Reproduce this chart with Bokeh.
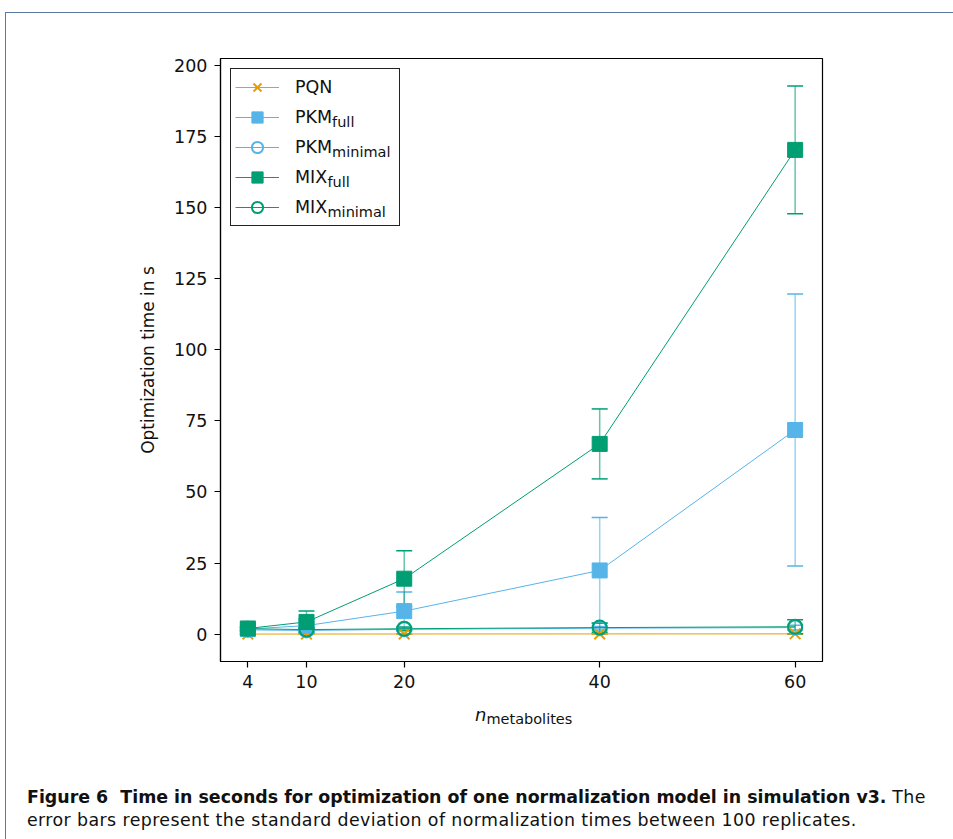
import numpy as np
from bokeh.plotting import figure
from bokeh.models import (ColumnDataSource, Range1d, FixedTicker, Whisker, TeeHead,
                          Legend, LegendItem, Div)
from bokeh.layouts import column
from bokeh.embed import file_html
from bokeh.resources import INLINE
from bokeh.core.properties import value

# ---------------- data ----------------
n_metabolites = [4, 10, 20, 40, 60]
y_ticks = [0, 25, 50, 75, 100, 125, 150, 175, 200]

pqn_mean = [0.03, 0.04, 0.06, 0.08, 0.10]
pqn_sd = [0.01, 0.01, 0.02, 0.02, 0.03]

pkm_full_mean = [1.8, 3.0, 8.1, 22.4, 71.8]
pkm_full_sd = [0.6, 2.4, 6.7, 18.6, 47.8]

pkm_min_mean = [1.5, 1.3, 1.7, 2.1, 2.3]
pkm_min_sd = [0.5, 0.4, 0.5, 0.6, 0.8]

mix_full_mean = [2.0, 4.3, 19.5, 66.9, 170.3]
mix_full_sd = [0.7, 3.8, 9.8, 12.3, 22.5]

mix_min_mean = [1.9, 1.6, 1.9, 2.3, 2.6]
mix_min_sd = [0.5, 0.5, 0.6, 1.6, 2.5]

series_main = ["PQN", "PKM", "PKM", "MIX", "MIX"]
series_sub = ["", "full", "minimal", "full", "minimal"]
series_means = [pqn_mean, pkm_full_mean, pkm_min_mean, mix_full_mean, mix_min_mean]
series_sds = [pqn_sd, pkm_full_sd, pkm_min_sd, mix_full_sd, mix_min_sd]
series_colors = ["#E69F00", "#56B4E9", "#56B4E9", "#009E73", "#009E73"]
series_markers = ["x", "square", "circle", "square", "circle"]

# ---------------- geometry ----------------
FL, FT, FW, FH = 214, 45, 602, 603
FONT = "DejaVu Sans"

xs = np.array(n_metabolites, dtype=float)
x_pad = 0.05 * (xs.max() - xs.min())
x0, x1 = xs.min() - x_pad, xs.max() + x_pad
lo = min(min(np.array(m) - np.array(s)) for m, s in zip(series_means, series_sds))
hi = max(max(np.array(m) + np.array(s)) for m, s in zip(series_means, series_sds))
y_pad = 0.05 * (hi - lo)
y0, y1 = lo - y_pad, hi + y_pad


def dx(px):
    return float(x0 + (px - FL) / FW * (x1 - x0))


def dy(py):
    return float(y1 - (py - FT) / FH * (y1 - y0))


p = figure(frame_width=FW, frame_height=FH,
           x_range=Range1d(x0, x1), y_range=Range1d(y0, y1),
           output_backend="svg", toolbar_location=None,
           min_border_left=FL, min_border_top=FT, min_border_right=131,
           min_border_bottom=42, background_fill_color="white",
           border_fill_color="white")
p.xgrid.visible = False
p.ygrid.visible = False
p.outline_line_color = "black"
p.outline_line_alpha = 1
p.outline_line_width = 1.2

p.xaxis.ticker = FixedTicker(ticks=n_metabolites)
p.yaxis.ticker = FixedTicker(ticks=y_ticks)
for ax in (p.xaxis[0], p.yaxis[0]):
    ax.minor_tick_line_color = None
    ax.major_tick_out = 6
    ax.major_tick_in = 0
    ax.major_tick_line_color = "black"
    ax.major_tick_line_width = 1.2
    ax.axis_line_color = "black"
    ax.axis_line_width = 1.2
    ax.major_label_text_font_size = "17.5px"
    ax.major_label_text_font = FONT
    ax.major_label_text_color = "#111111"
    ax.major_label_standoff = 7
p.yaxis.axis_label = "Optimization time in s"
p.yaxis.axis_label_text_font_style = "normal"
p.yaxis.axis_label_text_font_size = "17px"
p.yaxis.axis_label_text_font = FONT
p.yaxis.axis_label_text_color = "#111111"
p.yaxis.axis_label_standoff = 13

items = []
for main, sub, m, s, c, mk in zip(series_main, series_sub, series_means,
                                   series_sds, series_colors, series_markers):
    m = np.array(m)
    s = np.array(s)
    src = ColumnDataSource(dict(x=n_metabolites, y=m, upper=m + s, lower=m - s))
    lr = p.line("x", "y", source=src, line_color=c, line_width=1)
    wk = Whisker(base="x", upper="upper", lower="lower", source=src,
                 dimension="height", line_color=c, line_alpha=0.6, line_width=1.5,
                 upper_head=TeeHead(size=16, line_color=c, line_width=1.5),
                 lower_head=TeeHead(size=16, line_color=c, line_width=1.5),
                 level="underlay")
    p.add_layout(wk)
    if mk == "square":
        sr = p.scatter("x", "y", source=src, marker="square", size=15,
                       fill_color=c, line_color=c, line_width=1)
    elif mk == "circle":
        sr = p.scatter("x", "y", source=src, marker="circle", size=14,
                       fill_color=None, line_color=c, line_width=2)
    else:
        sr = p.scatter("x", "y", source=src, marker="x", size=15,
                       line_color=c, line_width=2)
    items.append(LegendItem(label=main, renderers=[lr, sr]))

LEG_PAD, GW, GH, SP, STANDOFF = 4, 44, 28, 2, 16
legend = Legend(items=items, location="top_left", margin=10, padding=LEG_PAD,
                spacing=SP, glyph_width=GW, glyph_height=GH, label_height=GH,
                label_width=100, label_standoff=STANDOFF,
                label_text_font_size="17.5px", label_text_font=FONT,
                label_text_color="#111111",
                border_line_color="#222222", border_line_width=1.5,
                border_line_alpha=1, background_fill_alpha=0)
p.add_layout(legend)

# subscripts of legend labels (drawn as text glyphs inside the legend box)
ADV = {"P": 1235, "K": 1276, "M": 1767, "I": 604, "X": 1372, "Q": 1612, "N": 1532}
text_x = FL + 10 + LEG_PAD + GW + STANDOFF
row0 = FT + 10 + LEG_PAD + GH / 2
sub_x, sub_y, sub_t = [], [], []
for i, (main, sub) in enumerate(zip(series_main, series_sub)):
    if not sub:
        continue
    w = sum(ADV[ch] for ch in main) / 2048 * 17.5
    sub_x.append(dx(text_x + w + 1))
    sub_y.append(dy(row0 + (GH + SP) * i + 5))
    sub_t.append(sub)
p.text(x=sub_x, y=sub_y, text=sub_t, text_font=value(FONT),
       text_font_size=value("14.5px"), text_color="#111111",
       text_baseline="alphabetic", text_align="left", level="overlay")

xlabel = Div(
    text=('<i style="font-size:18px">n</i><span style="font-size:14.5px;'
          'position:relative;top:3px">metabolites</span>'),
    width=300, height=28, margin=(0, 0, 0, 469),
    styles={"font-family": "'DejaVu Sans'", "color": "#111111",
            "white-space": "nowrap", "line-height": "24px"})

caption = Div(
    text=('<b style="letter-spacing:0">Figure 6&nbsp; Time in seconds for '
          'optimization of one normalization model in simulation v3.</b> The<br>'
          'error bars represent the standard deviation of normalization times '
          'between 100 replicates.'),
    width=930, height=60, margin=(55, 0, 0, 21),
    styles={"font-family": "'DejaVu Sans'", "letter-spacing": "0.4px",
            "font-size": "17.4px", "line-height": "23px", "color": "#111111",
            "white-space": "nowrap"})

layout = column(p, xlabel, caption, margin=(12, 0, 0, 5),
                styles={"border-top": "1.5px solid #5a79a5",
                        "border-left": "1.5px solid #5a79a5",
                        "width": "960px", "background": "white"})

open("out.html", "w").write(file_html(layout, INLINE))
